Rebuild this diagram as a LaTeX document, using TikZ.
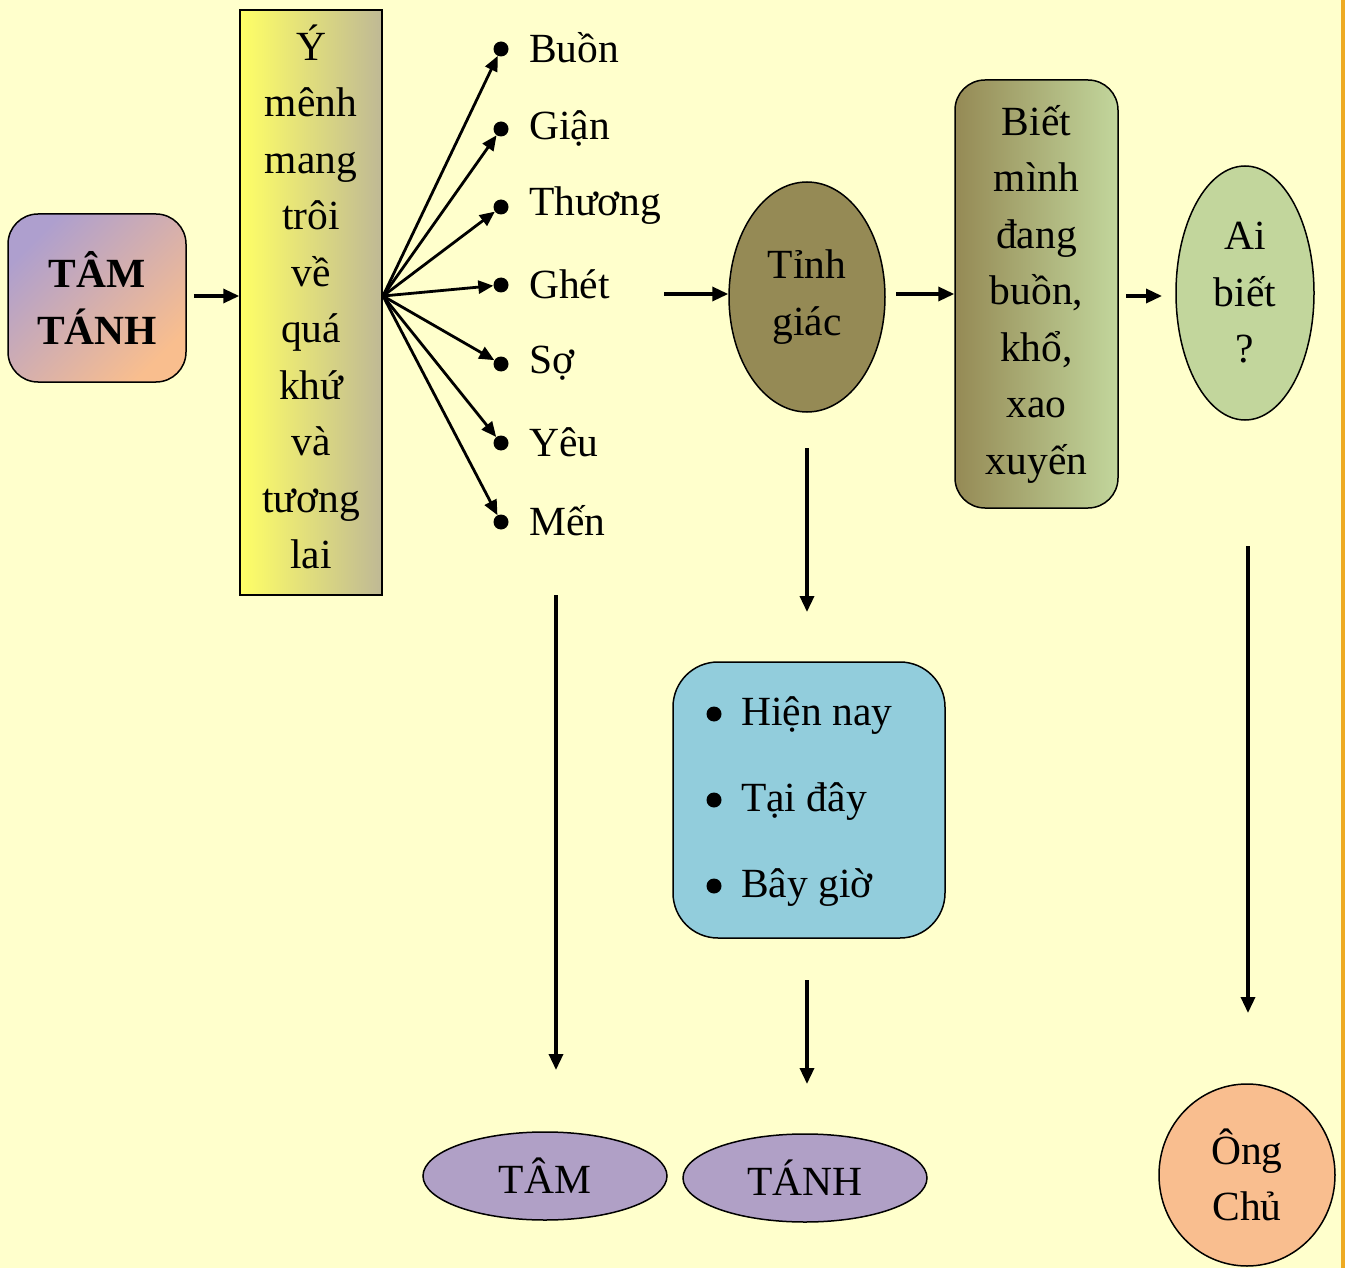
\documentclass[tikz,border=0pt]{standalone}
\usepackage{fontspec}
\setmainfont{Liberation Serif}
\usetikzlibrary{arrows.meta,shapes.geometric}
\definecolor{bg}{HTML}{FFFFCC}
\definecolor{edgeor}{HTML}{EEAA22}
\definecolor{ttA}{HTML}{AE9FCE}
\definecolor{ttB}{HTML}{F9BE8E}
\definecolor{yelA}{HTML}{FFFF66}
\definecolor{yelB}{HTML}{BFB995}
\definecolor{olive}{HTML}{958A55}
\definecolor{lgreen}{HTML}{C2D69C}
\definecolor{lblue}{HTML}{92CDDC}
\definecolor{lpurple}{HTML}{B0A0C6}
\definecolor{peach}{HTML}{F9BE8F}
\begin{document}
\begin{tikzpicture}[x=1pt,y=-1pt,
  every node/.style={font=\fontsize{41.5}{56.5}\selectfont, inner sep=0pt},
  conn/.style={line width=3.4pt, -{Triangle[length=16pt,width=14pt]}},
  fanarrow/.style={line width=2.8pt, -{Triangle[length=15pt,width=13pt]}},
  dotb/.style={circle, fill=black, minimum size=15pt},
  lbl/.style={anchor=west},
  ell/.style={ellipse, draw, line width=1.5pt, align=center}
]
\useasboundingbox (0,0) rectangle (1345,1268);
\fill[bg] (0,0) rectangle (1345,1268);
\fill[edgeor] (1341,0) rectangle (1345,1268);

% TAM TANH box
\node[draw, line width=1.5pt, rounded corners=30pt, minimum width=178pt, minimum height=168pt,
  top color=ttA, bottom color=ttB, shading angle=45, align=center, font=\fontsize{41.5}{56.5}\selectfont\bfseries]
  (tt) at (97,298) {TÂM\\TÁNH};

% Y menh mang box
\node[draw, line width=1.5pt, minimum width=142pt, minimum height=585pt,
  left color=yelA, right color=yelB] (ymbox) at (311,302.5) {};
\node[align=center] (ym) at (311,297) {Ý\\mênh\\mang\\trôi\\về\\quá\\khứ\\và\\tương\\lai};

\draw[conn, shorten <=7pt] (tt.east |- 0,296) -- (ymbox.west |- 0,296);

% fan
\coordinate (fan) at (383,296);
\node[dotb] (b1) at (501,49) {};
\node[dotb] (b2) at (501,129) {};
\node[dotb] (b3) at (501,207) {};
\node[dotb] (b4) at (501,285) {};
\node[dotb] (b5) at (501,364) {};
\node[dotb] (b6) at (501,443) {};
\node[dotb] (b7) at (501,522) {};
\node[lbl] (l1) at (529,48) {Buồn};
\node[lbl] (l2) at (529,128) {Giận};
\node[lbl] (l3) at (529,206) {Thương};
\node[lbl] (l4) at (529,284) {Ghét};
\node[lbl] (l5) at (529,363) {Sợ};
\node[lbl] (l6) at (529,442) {Yêu};
\node[lbl] (l7) at (529,521) {Mến};
\foreach \i in {1,...,7} \draw[fanarrow] (fan) -- (b\i);

% Tinh giac
\node[ell, fill=olive, minimum width=156pt, minimum height=230pt] (tg) at (807,297) {Tỉnh\\giác};
\coordinate (tgin) at (664,294);
\draw[conn] (tgin) -- (tgin -| tg.west);

% Biet minh box
\node[draw, line width=1.5pt, rounded corners=30pt, minimum width=163pt, minimum height=428pt,
  left color=olive, right color=lgreen, align=center]
  (bm) at (1036.5,294) {Biết\\mình\\đang\\buồn,\\khổ,\\xao\\xuyến};
\coordinate (bmin) at (896,294);
\draw[conn] (bmin) -- (bmin -| bm.west);

% Ai biet
\node[ell, fill=lgreen, minimum width=138pt, minimum height=254pt] (ab) at (1245,293) {Ai\\biết\\?};
\coordinate (abin) at (1126,296);
\draw[conn] (abin) -- (1162,296);

% Blue box
\node[draw, line width=1.5pt, rounded corners=45pt, fill=lblue, minimum width=272pt, minimum height=276pt] (hn) at (809,800) {};
\node[dotb] (d1) at (714,714) {};
\node[dotb] (d2) at (714,800) {};
\node[dotb] (d3) at (714,886) {};
\node[lbl] (h1) at (741,716) {Hiện nay};
\node[lbl] (h2) at (741,802) {Tại đây};
\node[lbl] (h3) at (741,888) {Bây giờ};

\coordinate (v1s) at (807,448);
\coordinate (v1e) at (807,612);
\draw[conn] (v1s) -- (v1e);

% bottom
\node[ell, fill=lpurple, minimum width=244pt, minimum height=88pt] (tam) at (545,1176) {TÂM};
\node[ell, fill=lpurple, minimum width=244pt, minimum height=88pt] (tanh) at (805,1178) {TÁNH};
\node[ell, fill=peach, minimum width=176pt, minimum height=182pt] (oc) at (1247,1175) {Ông\\Chủ};

\coordinate (v2s) at (807,980);
\coordinate (v2e) at (807,1084);
\draw[conn] (v2s) -- (v2e);
\coordinate (v3s) at (556,595);
\coordinate (v3e) at (556,1070);
\draw[conn] (v3s) -- (v3e);
\coordinate (v4s) at (1248,546);
\coordinate (v4e) at (1248,1013);
\draw[conn] (v4s) -- (v4e);
\end{tikzpicture}
\end{document}
